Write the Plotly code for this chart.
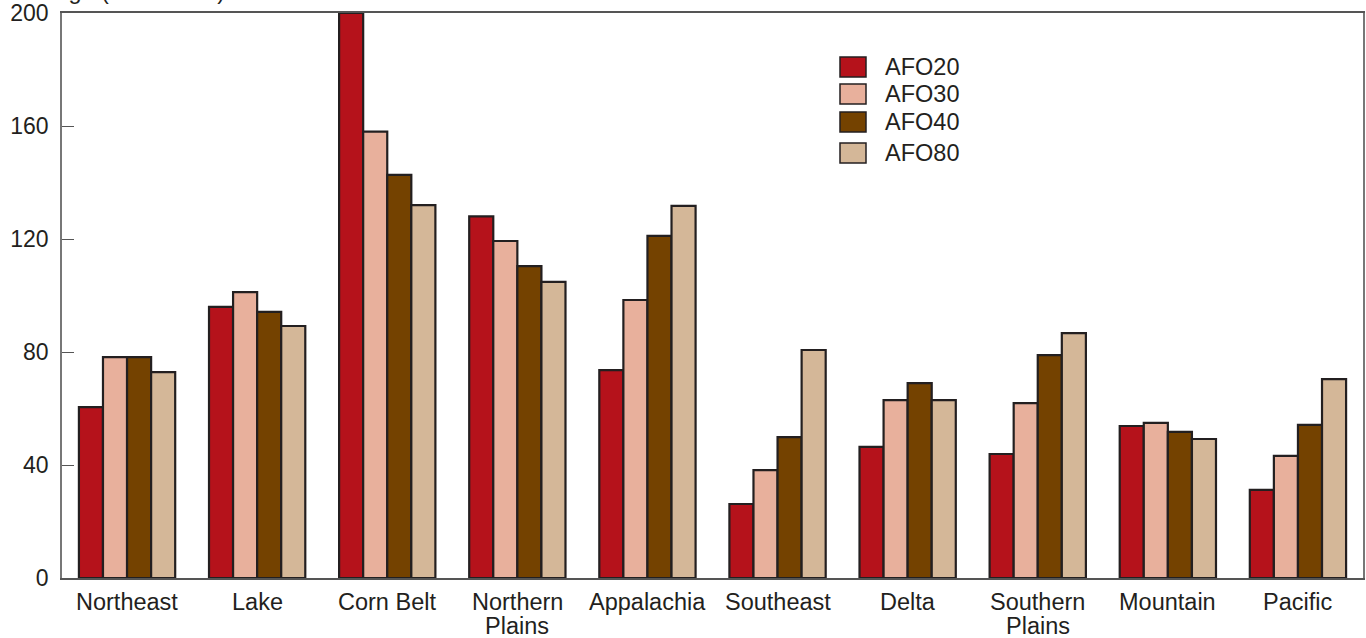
import plotly.graph_objects as go

categories = ["Northeast", "Lake", "Corn Belt", "Northern<br>Plains", "Appalachia",
              "Southeast", "Delta", "Southern<br>Plains", "Mountain", "Pacific"]
series_names = ["AFO20", "AFO30", "AFO40", "AFO80"]
afo20 = [60.5, 96, 200, 128, 73.6, 26.2, 46.4, 43.9, 53.8, 31.2]
afo30 = [78.2, 101.2, 158, 119.3, 98.4, 38.2, 63, 61.9, 54.9, 43.2]
afo40 = [78.2, 94.2, 142.7, 110.4, 121.1, 49.9, 69, 78.9, 51.7, 54.2]
afo80 = [72.9, 89.2, 132, 104.8, 131.7, 80.7, 63, 86.7, 49.2, 70.4]
y_ticks = [0, 40, 80, 120, 160, 200]
y_title = "Acreage (thousands)"

series_values = [afo20, afo30, afo40, afo80]
colors = ["#b5121b", "#e8b09c", "#744200", "#d4b798"]
outline = "#231f20"
font = "Liberation Sans, Arial, sans-serif"
FS = 23.5

fig = go.Figure()
for name, vals, col in zip(series_names, series_values, colors):
    fig.add_trace(go.Bar(x=categories, y=vals, name=name, marker_color=col,
                         marker_line_color=outline, marker_line_width=2.2,
                         showlegend=False))

# plot area in page pixels: x 62..1363, y 13..578
W = 1301.0
H = 565.0
def px(x):
    return (x - 62) / W
def py(y):
    return (578 - y) / H

legend_rows = [67, 94, 122, 153]
for name, col, yc in zip(series_names, colors, legend_rows):
    fig.add_shape(type="rect", xref="paper", yref="paper",
                  x0=px(840), x1=px(866), y0=py(yc + 10), y1=py(yc - 10),
                  fillcolor=col, line=dict(color=outline, width=1.5))
    fig.add_annotation(xref="paper", yref="paper", x=px(883), y=py(yc),
                       text=name, showarrow=False, xanchor="left", yanchor="middle",
                       font=dict(size=FS, color=outline, family=font))

# partially visible axis title at the very top (cut off by the page edge, as in the original)
fig.add_annotation(xref="paper", yref="paper", x=px(5), y=1, yshift=7,
                   text=y_title, showarrow=False, xanchor="left", yanchor="bottom",
                   font=dict(size=FS, color=outline, family=font))

# category labels (drawn line by line for tight line spacing)
for cat in categories:
    for i, line in enumerate(cat.split("<br>")):
        fig.add_annotation(xref="x", yref="paper", x=cat, y=0, yshift=-9 - 24 * i,
                           text=line, showarrow=False, xanchor="center", yanchor="top",
                           font=dict(size=FS, color=outline, family=font))

fig.update_layout(
    width=1366, height=638,
    margin=dict(l=62, r=3, t=13, b=60, autoexpand=False),
    barmode="group", bargap=0.26, bargroupgap=0,
    plot_bgcolor="white", paper_bgcolor="white",
    font=dict(family=font, size=FS, color=outline),
)
fig.update_xaxes(showline=True, linecolor="#555555", linewidth=1.5, mirror=True,
                 ticks="", showgrid=False, showticklabels=False, automargin=False)
fig.update_yaxes(range=[0, 200], tickvals=y_ticks, showline=True, linecolor="#777777",
                 linewidth=1.5, mirror=True, ticks="inside", ticklen=12, tickcolor="#555555",
                 showgrid=False, zeroline=False, ticklabelstandoff=7, automargin=False,
                 ticklabeloverflow="allow", tickfont=dict(size=23))

fig.write_html("out.html", config={"displayModeBar": False},
               post_script="document.body.style.margin='0';document.body.style.overflow='hidden';")
